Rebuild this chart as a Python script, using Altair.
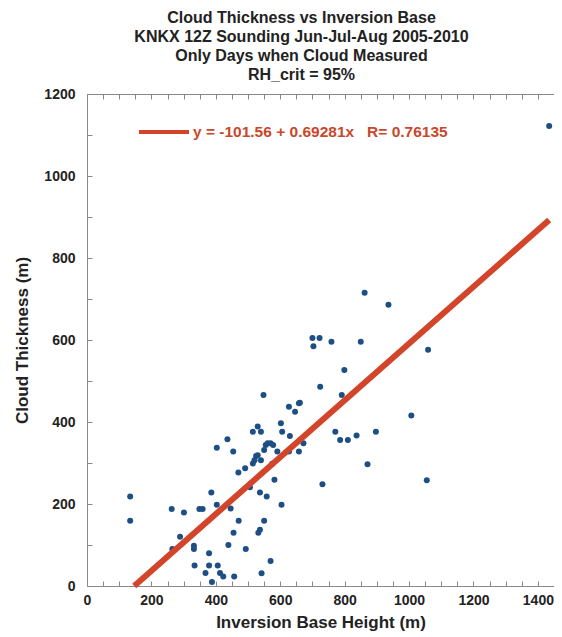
import altair as alt
import pandas as pd

inv_base = [134, 134, 263, 301, 349, 359, 386, 403, 403, 289, 265, 332, 332, 379, 334, 379,
            406, 368, 413, 423, 457, 388, 439, 436, 454, 446, 471, 455, 493, 470, 491, 506,
            537, 558, 548, 515, 530, 540, 515, 520, 525, 530, 540, 550, 555, 561, 570, 578,
            591, 575, 582, 604, 550, 532, 537, 570, 542, 602, 606, 627, 646, 658, 630, 627,
            658, 672, 724, 791, 731, 771, 786, 810, 862, 936, 700, 722, 703, 759, 850, 1059,
            799, 1007, 837, 897, 661, 871, 1055, 1435]
cloud_thk = [218, 159, 188, 179, 188, 188, 228, 337, 198, 120, 90, 98, 90, 80, 50, 50,
             50, 32, 32, 23, 23, 10, 100, 358, 328, 189, 159, 130, 90, 277, 287, 241,
             228, 218, 466, 376, 389, 376, 299, 307, 317, 319, 307, 332, 344, 348, 348, 344,
             328, 298, 259, 198, 159, 130, 137, 61, 31, 397, 376, 437, 425, 446, 366, 328,
             328, 348, 486, 466, 248, 376, 356, 356, 715, 686, 605, 605, 585, 596, 596, 576,
             527, 416, 367, 376, 447, 297, 258, 1122]

fit_intercept = -101.56
fit_slope = 0.69281
fit_r = 0.76135
fit_x = [146.6, 1435]

title_lines = ["Cloud Thickness vs Inversion Base",
               "KNKX 12Z Sounding Jun-Jul-Aug 2005-2010",
               "Only Days when Cloud Measured",
               "RH_crit = 95%"]
fit_label = "y = -101.56 + 0.69281x\u00a0\u00a0\u00a0R= 0.76135"

pts = pd.DataFrame({"x": inv_base, "y": cloud_thk})
fit = pd.DataFrame({"x": fit_x,
                    "y": [fit_intercept + fit_slope * v for v in fit_x],
                    "lab": [fit_label] * len(fit_x)})

FONT = "Liberation Sans"
xvals = list(range(0, 1451, 50))
yvals = list(range(0, 1201, 50))
major = "datum.value % 200 === 0"
inward = {"expr": "-5"}

xscale = alt.Scale(domain=[0, 1450], nice=False, zero=False)
yscale = alt.Scale(domain=[0, 1200], nice=False, zero=False)

x_axis = alt.Axis(orient="bottom", values=xvals, labelExpr=f"{major} ? datum.label : ''",
                  tickSize=inward, format="d",
                  labelOverlap=False, labelFlush=False, grid=False, labelPadding=12,
                  title="Inversion Base Height (m)", titlePadding=7)
y_axis = alt.Axis(values=yvals, labelExpr=f"{major} ? datum.label : ''", tickSize=inward,
                  format="d",
                  labelOverlap=False, labelFlush=False, grid=False, labelPadding=17,
                  title="Cloud Thickness (m)", titlePadding=12)
x_top = alt.Axis(orient="top", values=xvals, labels=False, tickSize=inward, grid=False, title=None)

points = alt.Chart(pts).mark_circle(size=36, color="#1d4f85", opacity=1).encode(
    x=alt.X("x:Q", scale=xscale, axis=x_axis),
    y=alt.Y("y:Q", scale=yscale, axis=y_axis),
)

line = alt.Chart(fit).mark_line(strokeWidth=6, strokeCap="butt").encode(
    x=alt.X("x:Q", scale=xscale, axis=x_top),
    y=alt.Y("y:Q", scale=yscale),
    color=alt.Color("lab:N", scale=alt.Scale(domain=[fit_label], range=["#d2452a"]),
                    legend=alt.Legend(orient="none", legendX=50, legendY=11, title=None,
                                      symbolType="stroke", symbolSize=2500, symbolStrokeWidth=4,
                                      labelColor="#c9472b", labelFont=FONT, labelFontSize=15.5,
                                      labelFontWeight="bold", labelOffset=2, labelLimit=500)),
)

chart = alt.layer(points, line).properties(
    width=467, height=492,
    padding={"left": 79, "top": 86, "right": 0, "bottom": 50},
    autosize=alt.AutoSizeParams(type="none"),
    title=alt.TitleParams(text=title_lines, anchor="middle", fontSize=16, fontWeight="bold",
                          font=FONT, color="#222222", lineHeight=19, offset=4, dx=-19),
).configure_view(stroke=None).configure_axis(
    labelFont=FONT, labelFontSize=14, labelFontWeight="bold", labelColor="#222222",
    titleFont=FONT, titleFontSize=17, titleFontWeight="bold", titleColor="#222222",
    domainColor="#888888", tickColor="#888888",
)

chart.save("out.html", embed_options={"renderer": "svg", "actions": False})
